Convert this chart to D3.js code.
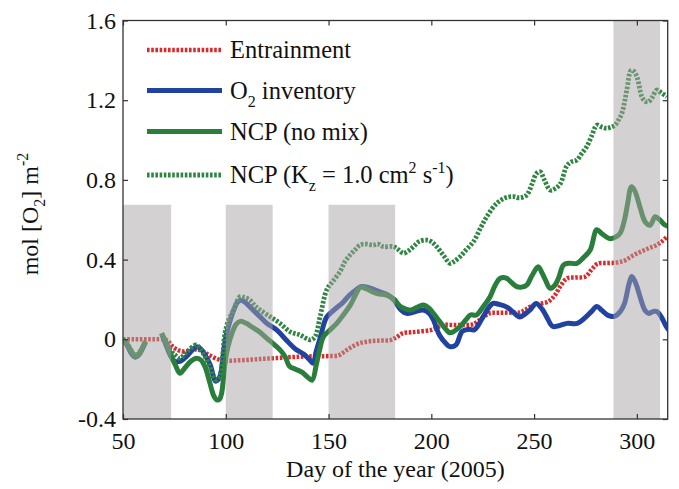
<!DOCTYPE html>
<html>
<head>
<meta charset="utf-8">
<script src="https://cdn.jsdelivr.net/npm/d3@7"></script>
<style>
  html, body { margin: 0; padding: 0; background: #fff; }
  svg { display: block; font-family: "Liberation Serif", "Times New Roman", serif; }
</style>
</head>
<body>
<svg id="chart" width="679" height="489"></svg>
<script>
// Axis ticks
const xTicks = [50, 100, 150, 200, 250, 300];
const yTicks = [-0.4, 0, 0.4, 0.8, 1.2, 1.6];
const yTickLabels = ["-0.4", "0", "0.4", "0.8", "1.2", "1.6"];

// Shaded periods (day of year) and the height each band reaches
const bandStart = [50, 100, 150, 288.6];
const bandEnd = [73.4, 122.8, 182.4, 311.3];
const bandTop = [0.675, 0.675, 0.675, 1.6];

// Series as [day, mol O2 m^-2]; a null value marks a gap in the record
const entrainment = [
  [50,0],[55,0],[60,0],[65,0],[70,0],[72,-0.01],[74,-0.035],[77,-0.055],[80,-0.062],[83,-0.058],
  [86,-0.05],[89,-0.062],[92,-0.08],[96,-0.1],[100,-0.108],[105,-0.106],[110,-0.104],[115,-0.1],
  [120,-0.097],[125,-0.094],[130,-0.09],[135,-0.088],[140,-0.086],[145,-0.085],[150,-0.084],
  [155,-0.08],[158,-0.06],[161,-0.04],[165,-0.02],[170,-0.01],[175,-0.006],[180,-0.004],[183,0.01],
  [186,0.03],[190,0.035],[195,0.04],[200,0.047],[203,0.06],[206,0.072],[210,0.072],[215,0.072],
  [220,0.075],[224,0.1],[228,0.13],[232,0.133],[237,0.134],[243,0.135],[246,0.15],[249,0.168],
  [253,0.178],[257,0.19],[260,0.22],[263,0.27],[266,0.306],[270,0.31],[275,0.315],[278,0.35],
  [281,0.38],[285,0.383],[290,0.385],[294,0.395],[298,0.42],[302,0.44],[306,0.458],[309,0.47],
  [312,0.49],[315,0.518]
];

const inventory = [
  [50,0],[52,-0.03],[54,-0.07],[56,-0.09],[58,-0.075],[60,-0.035],[61,-0.015],[64,null],
  [68.8,0.03],[71,-0.03],[73,-0.08],[75,-0.11],[78,-0.11],[81,-0.085],[84,-0.05],[86,-0.038],
  [88,-0.05],[90,-0.08],[92.5,-0.13],[95,-0.21],[97,-0.19],[99,-0.06],[100,0.01],[102,0.09],
  [104,0.15],[106,0.19],[108,0.195],[110,0.18],[113,0.15],[117,0.11],[120,0.08],[125,0.045],
  [130,-0.01],[134,-0.05],[138,-0.075],[140.5,-0.1],[142.5,-0.12],[144,-0.06],[146,0.01],
  [149,0.11],[153,0.15],[157,0.185],[160,0.22],[163,0.245],[166,0.265],[170,0.258],[175,0.238],
  [179,0.222],[182,0.195],[185,0.15],[188,0.13],[192,0.138],[196,0.147],[199,0.13],[201,0.097],
  [204,0.02],[207,-0.02],[209,-0.037],[212,-0.028],[215,0.04],[218,0.05],[221,0.048],[225,0.11],
  [228,0.16],[230,0.18],[233,0.175],[237,0.16],[240,0.135],[243,0.112],[246,0.13],[248,0.147],
  [251,0.18],[254,0.15],[256,0.115],[259,0.065],[262,0.068],[266,0.08],[271,0.08],[275,0.11],
  [278,0.14],[280.5,0.165],[283,0.145],[286,0.12],[289,0.115],[292,0.14],[294,0.18],[296,0.27],
  [297.5,0.315],[299.5,0.28],[301.5,0.215],[304,0.145],[306,0.13],[308,0.14],[310,0.138],
  [312,0.11],[314,0.07],[315.5,0.047]
];

const ncpNoMix = [
  [50,0],[52,-0.025],[54,-0.06],[56,-0.085],[58,-0.07],[60,-0.03],[61,-0.01],[64,null],
  [68.8,0.03],[71,-0.02],[73,-0.07],[75.5,-0.13],[77.7,-0.17],[80,-0.145],[83,-0.11],[86,-0.095],
  [88,-0.105],[90,-0.14],[92.3,-0.22],[94,-0.28],[95.6,-0.304],[97,-0.3],[98,-0.27],[99.6,-0.12],
  [101,-0.04],[103,0.03],[105,0.075],[107,0.09],[110,0.08],[113,0.06],[116,0.04],[120,0.005],
  [124,-0.03],[127,-0.06],[129,-0.09],[131,-0.135],[134,-0.15],[137,-0.165],[139.5,-0.187],
  [142,-0.205],[144,-0.13],[145.5,-0.06],[147.5,0.013],[150,0.04],[154,0.08],[157,0.12],
  [160.5,0.17],[163,0.22],[165.5,0.262],[168,0.255],[171,0.24],[174,0.228],[177,0.225],
  [180,0.214],[182,0.2],[185,0.164],[188,0.15],[190,0.147],[193,0.16],[196,0.172],[199,0.155],
  [201,0.13],[204,0.09],[206,0.064],[209,0.033],[211,0.04],[214,0.064],[217,0.1],[219,0.122],
  [222,0.122],[225,0.16],[228.6,0.214],[231,0.27],[233.5,0.306],[236.7,0.306],[239,0.285],
  [241.6,0.264],[244,0.262],[246.4,0.272],[249,0.32],[252,0.364],[254,0.33],[255.5,0.298],
  [257.8,0.256],[260,0.27],[262,0.31],[264.3,0.373],[267,0.382],[270.8,0.381],[274,0.41],
  [277.3,0.448],[280.5,0.55],[283,0.53],[287,0.505],[290,0.515],[292,0.535],[294,0.6],
  [295.5,0.68],[297.3,0.765],[299,0.745],[301.6,0.66],[304,0.59],[306.4,0.572],[308.9,0.615],
  [311.3,0.598],[313.5,0.575],[315.7,0.565]
];

const ncpKz = [
  [50,0],[52,-0.02],[54,-0.055],[56,-0.08],[58,-0.065],[60,-0.03],[61,-0.01],[64,null],
  [68.8,0.03],[71,-0.015],[73,-0.054],[75.5,-0.08],[77.7,-0.095],[80,-0.075],[82,-0.054],
  [85.5,-0.028],[87,-0.04],[89,-0.07],[92.3,-0.137],[95.3,-0.204],[97.2,-0.187],[98.5,-0.08],
  [99.6,0.03],[101.5,0.1],[103.7,0.147],[106.9,0.214],[109,0.21],[111.8,0.197],[114,0.17],
  [116.7,0.147],[121.5,0.114],[126.4,0.08],[131.3,0.038],[136.1,0.022],[141,-0.003],[143.4,0.013],
  [145.9,0.114],[149.1,0.248],[152,0.29],[155.6,0.34],[158,0.39],[160.5,0.423],[163,0.45],
  [165.3,0.473],[168,0.478],[171.8,0.473],[174,0.478],[176.7,0.465],[181.6,0.465],[184,0.45],
  [186.4,0.432],[189,0.445],[191.3,0.465],[194,0.49],[197.8,0.498],[200,0.49],[202.6,0.465],
  [206,0.42],[209.1,0.381],[211,0.39],[214,0.415],[217,0.45],[220.5,0.49],[224,0.56],[227,0.616],
  [231.8,0.682],[236,0.71],[240,0.716],[243,0.71],[246.4,0.724],[249,0.78],[251,0.83],
  [252.9,0.841],[255,0.8],[257.8,0.749],[260,0.755],[262.7,0.78],[265.9,0.87],[268,0.89],
  [270.8,0.9],[273,0.93],[275.6,0.967],[278,1.02],[280.5,1.075],[283,1.065],[285.4,1.059],
  [287.5,1.065],[289.4,1.075],[291,1.1],[292.7,1.134],[294,1.19],[295.1,1.251],[297.2,1.35],
  [298.5,1.345],[300,1.318],[302.4,1.218],[304,1.195],[305.6,1.192],[307.5,1.215],[309.7,1.251],
  [312.1,1.235],[314.6,1.218]
];

const seriesNames = ["Entrainment", "O2 inventory", "NCP (no mix)", "NCP Kz"];
const seriesData = [entrainment, inventory, ncpNoMix, ncpKz];
const seriesColors = ["#dc2a2c", "#2242a0", "#2a7e3b", "#2f8542"];
const seriesDash = ["2.6,1.6", null, null, "2.6,1.6"];
const seriesWidth = [4.5, 5, 5, 4.8];

const svg = d3.select("#chart");
const plotLeft = 123, plotRight = 667.7, plotTop = 20.5, plotBottom = 419;

const x = d3.scaleLinear().domain([50, 315]).range([plotLeft, plotRight]);
const y = d3.scaleLinear().domain([-0.4, 1.6]).range([plotBottom, plotTop]);

const line = d3.line()
  .defined(d => d[1] !== null)
  .x(d => x(d[0]))
  .y(d => y(d[1]))
  .curve(d3.curveCatmullRom.alpha(0.5));

const plot = svg.append("g");
plot.append("clipPath").attr("id", "clip")
  .append("rect").attr("x", plotLeft).attr("y", plotTop)
  .attr("width", plotRight - plotLeft).attr("height", plotBottom - plotTop);

// Series lines
const lines = plot.append("g").attr("clip-path", "url(#clip)");
seriesData.forEach((data, i) => {
  lines.append("path")
    .datum(data)
    .attr("d", line)
    .attr("fill", "none")
    .attr("stroke", seriesColors[i])
    .attr("stroke-width", seriesWidth[i])
    .attr("stroke-dasharray", seriesDash[i])
    .attr("stroke-linejoin", "round");
});

// Translucent shaded periods over the lines
plot.append("g").selectAll("rect")
  .data(bandStart.map((s, i) => ({ s, e: bandEnd[i], t: bandTop[i] })))
  .join("rect")
  .attr("x", d => x(d.s))
  .attr("width", d => x(d.e) - x(d.s))
  .attr("y", d => y(d.t))
  .attr("height", d => y(-0.4) - y(d.t))
  .attr("fill", "rgb(168,163,163)")
  .attr("fill-opacity", 0.5);

// Axes: labelled bottom/left, tick-only top/right, all ticks pointing inward
const axisColor = "#333";
function styleAxis(g) {
  g.select(".domain").remove();
  g.selectAll(".tick line").attr("stroke", axisColor).attr("stroke-width", 1.2);
  g.selectAll(".tick text").attr("fill", "#111").attr("font-size", 24)
    .attr("font-family", "'Liberation Serif', 'Times New Roman', serif");
}

svg.append("g").attr("transform", `translate(0,${plotBottom})`)
  .call(d3.axisBottom(x).tickValues(xTicks).tickSizeInner(-5).tickSizeOuter(0).tickPadding(13))
  .call(styleAxis);
svg.append("g").attr("transform", `translate(0,${plotTop})`)
  .call(d3.axisTop(x).tickValues(xTicks).tickSizeInner(-5).tickSizeOuter(0).tickFormat(""))
  .call(styleAxis);
svg.append("g").attr("transform", `translate(${plotLeft},0)`)
  .call(d3.axisLeft(y).tickValues(yTicks).tickSizeInner(-5).tickSizeOuter(0).tickPadding(7)
    .tickFormat((d, i) => yTickLabels[i]))
  .call(styleAxis);
svg.append("g").attr("transform", `translate(${plotRight},0)`)
  .call(d3.axisRight(y).tickValues(yTicks).tickSizeInner(-5).tickSizeOuter(0).tickFormat(""))
  .call(styleAxis);

// Frame
svg.append("rect")
  .attr("x", plotLeft).attr("y", plotTop)
  .attr("width", plotRight - plotLeft).attr("height", plotBottom - plotTop)
  .attr("fill", "none").attr("stroke", axisColor).attr("stroke-width", 1.3);

// Axis titles
svg.append("text")
  .attr("x", (plotLeft + plotRight) / 2).attr("y", 477)
  .attr("text-anchor", "middle").attr("font-size", 24).attr("fill", "#111")
  .text("Day of the year (2005)");

const yt = svg.append("text")
  .attr("transform", "translate(38,214) rotate(-90)")
  .attr("text-anchor", "middle").attr("font-size", 24).attr("fill", "#111");
yt.append("tspan").text("mol [O");
yt.append("tspan").attr("font-size", 16).attr("dy", 7).text("2");
yt.append("tspan").attr("dy", -7).text("] m");
yt.append("tspan").attr("font-size", 16).attr("dy", -10).text("-2");

// Legend
const legendRowY = [50, 90.5, 131.5, 175];
const legend = svg.append("g");
seriesNames.forEach((name, i) => {
  legend.append("line")
    .attr("x1", 147).attr("x2", 222)
    .attr("y1", legendRowY[i]).attr("y2", legendRowY[i])
    .attr("stroke", seriesColors[i]).attr("stroke-width", seriesWidth[i])
    .attr("stroke-dasharray", seriesDash[i]);
});
function legendText(i) {
  return legend.append("text")
    .attr("x", 230).attr("y", legendRowY[i] + 8.3)
    .attr("font-size", 24.5).attr("fill", "#111");
}
legendText(0).text("Entrainment");
const t1 = legendText(1);
t1.append("tspan").text("O");
t1.append("tspan").attr("font-size", 16).attr("dy", 8).text("2");
t1.append("tspan").attr("dy", -8).text(" inventory");
legendText(2).text("NCP (no mix)");
const t3 = legendText(3);
t3.append("tspan").text("NCP (K");
t3.append("tspan").attr("font-size", 16).attr("dy", 8).text("z");
t3.append("tspan").attr("dy", -8).text(" = 1.0 cm");
t3.append("tspan").attr("font-size", 16).attr("dy", -10).text("2");
t3.append("tspan").attr("dy", 10).text(" s");
t3.append("tspan").attr("font-size", 16).attr("dy", -10).text("-1");
t3.append("tspan").attr("dy", 10).text(")");
</script>
</body>
</html>
